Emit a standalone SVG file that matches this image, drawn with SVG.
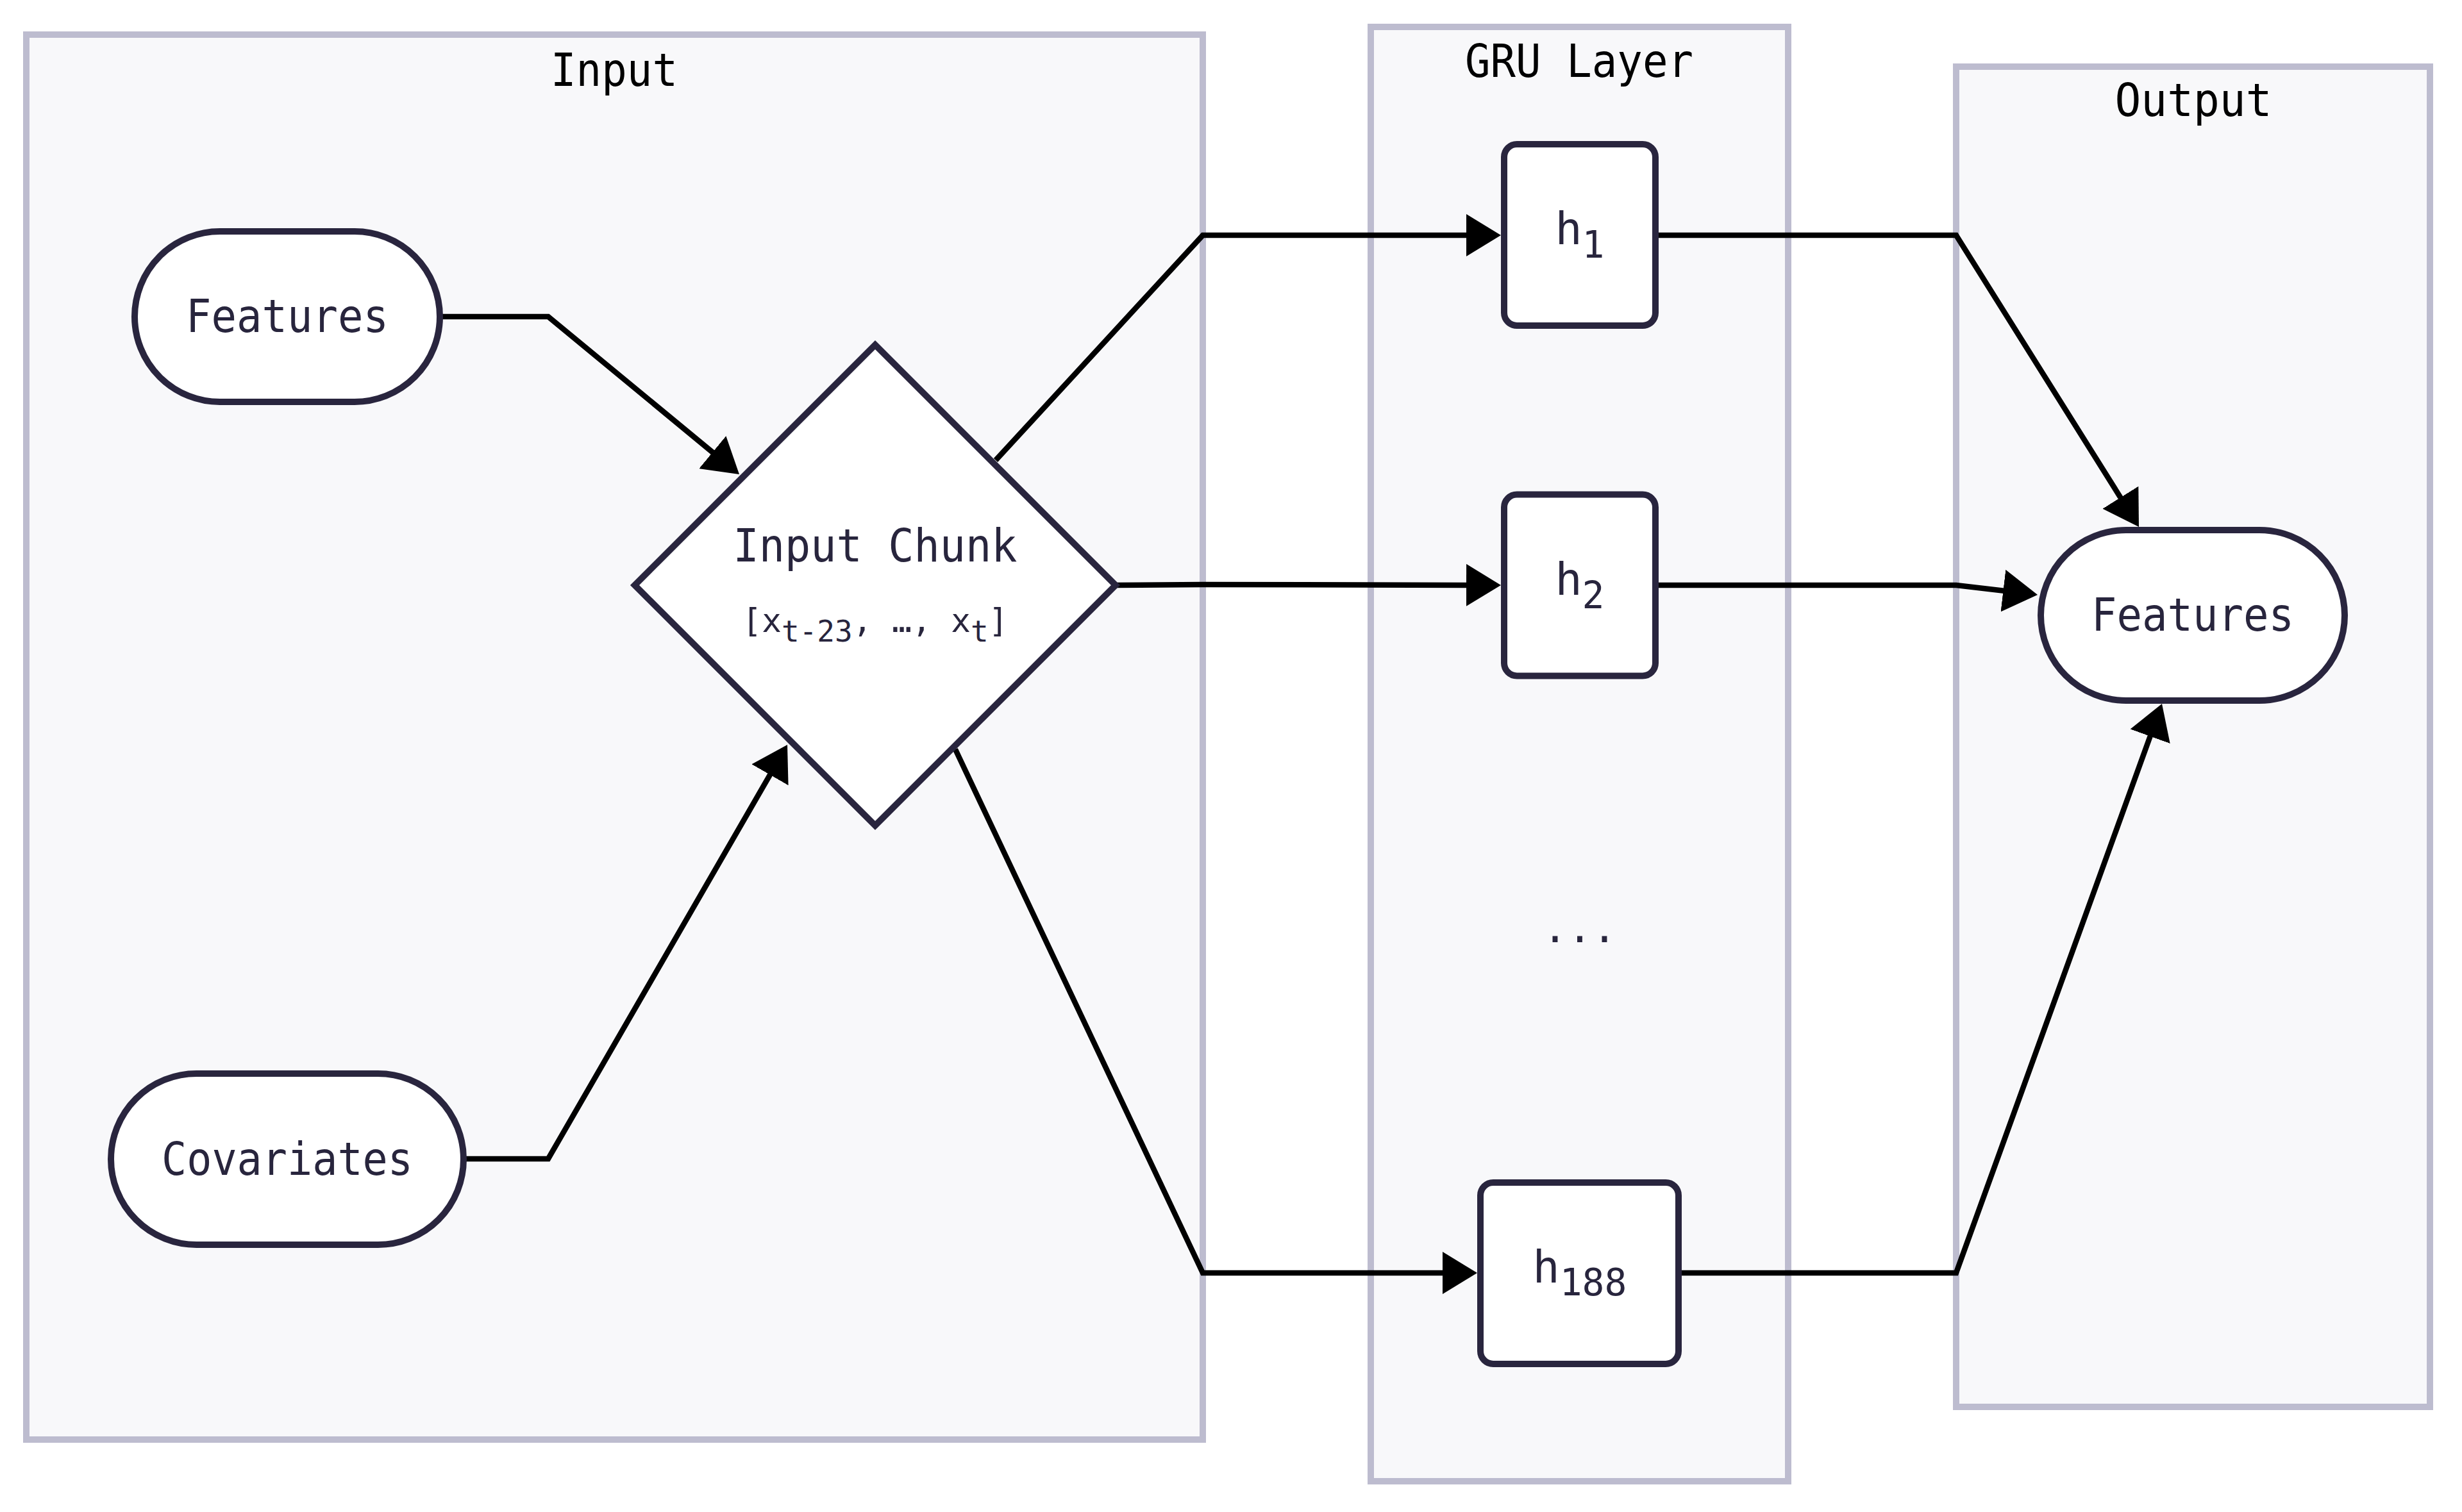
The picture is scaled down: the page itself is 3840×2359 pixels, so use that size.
<svg xmlns="http://www.w3.org/2000/svg" width="3840" height="2359" viewBox="0 0 3840 2359">
<style>
.cluster{fill:#f8f8fa;stroke:#bdbccf;stroke-width:10}
.title{font-family:"DejaVu Sans Mono","Liberation Mono",monospace;font-size:72px;fill:#000;text-anchor:middle}
.node{fill:#ffffff;stroke:#29253e;stroke-width:10}
.label{font-family:"DejaVu Sans Mono","Liberation Mono",monospace;font-size:72px;fill:#28253d;text-anchor:middle}
.hl{font-family:"DejaVu Sans Mono","Liberation Mono",monospace;font-size:70px;fill:#28253d;text-anchor:middle}
.sub{font-size:58px}
.edge{fill:none;stroke:#000;stroke-width:8.5;stroke-linejoin:miter}
</style>
<defs>
<marker id="arrow" viewBox="0 0 54 66" refX="44" refY="33" markerWidth="54" markerHeight="66" markerUnits="userSpaceOnUse" orient="auto">
<path d="M0,0 L54,33 L0,66 z" fill="#000"/>
</marker>
</defs>
<rect width="3840" height="2359" fill="#ffffff"/>
<g id="clusters">
<g id="cluster-input">
<rect class="cluster" x="41" y="54" width="1835" height="2192"/>
<text class="title" x="958" y="134" textLength="198" lengthAdjust="spacingAndGlyphs">Input</text>
</g>
<g id="cluster-gru">
<rect class="cluster" x="2138" y="42" width="651" height="2269"/>
<text class="title" x="2463" y="120" textLength="356" lengthAdjust="spacingAndGlyphs">GRU Layer</text>
</g>
<g id="cluster-output">
<rect class="cluster" x="3051" y="104" width="739" height="2091"/>
<text class="title" x="3421" y="181" textLength="245" lengthAdjust="spacingAndGlyphs">Output</text>
</g>
</g>
<g id="connectors">
<path class="edge" d="M686,494 L855,494 L1145.3,733.6" marker-end="url(#arrow)"/>
<path class="edge" d="M723,1808 L855,1808 L1223,1170.7" marker-end="url(#arrow)"/>
<path class="edge" d="M1553,718 L1876,367 L2331,367" marker-end="url(#arrow)"/>
<path class="edge" d="M1740,913 L1876,912 L2331,913" marker-end="url(#arrow)"/>
<path class="edge" d="M1490,1169 L1876,1986 L2294,1986" marker-end="url(#arrow)"/>
<path class="edge" d="M2587,367 L3051,367 L3330.7,813.5" marker-end="url(#arrow)"/>
<path class="edge" d="M2587,913 L3051,913 L3168.1,926.8" marker-end="url(#arrow)"/>
<path class="edge" d="M2623,1986 L3051,1986 L3368.6,1107.4" marker-end="url(#arrow)"/>
</g>
<g id="node-features-in">
<rect class="node" x="210" y="361" width="476" height="266" rx="133" ry="133"/>
<text class="label" x="448" y="518" textLength="316" lengthAdjust="spacingAndGlyphs">Features</text>
</g>
<g id="node-covariates">
<rect class="node" x="173" y="1675" width="550" height="267" rx="133.5" ry="133.5"/>
<text class="label" x="448" y="1833" textLength="392" lengthAdjust="spacingAndGlyphs">Covariates</text>
</g>
<g id="node-input-chunk">
<polygon class="node" points="1365,538 1740,913 1365,1288 990,913"/>
<text class="label" x="1365" y="876" textLength="443" lengthAdjust="spacingAndGlyphs">Input Chunk</text>
<text x="1365" y="986" font-family="DejaVu Sans Mono, Liberation Mono, monospace" font-size="51" fill="#28253d" text-anchor="middle">[x<tspan font-size="46" dy="15">t-23</tspan><tspan dy="-15">, …, x</tspan><tspan font-size="46" dy="15">t</tspan><tspan dy="-15">]</tspan></text>
</g>
<g id="node-h1">
<rect class="node" x="2346" y="225" width="236" height="283" rx="20" ry="20"/>
<text class="hl" x="2464" y="381">h<tspan class="sub" dy="21">1</tspan></text>
</g>
<g id="node-h2">
<rect class="node" x="2346" y="771.5" width="236" height="283" rx="20" ry="20"/>
<text class="hl" x="2464" y="927.5">h<tspan class="sub" dy="21">2</tspan></text>
</g>
<g id="node-ellipsis">
<text x="2464" y="1470" font-family="DejaVu Sans Mono, Liberation Mono, monospace" font-size="64" fill="#28253d" text-anchor="middle">...</text>
</g>
<g id="node-h188">
<rect class="node" x="2309" y="1845" width="309" height="283" rx="20" ry="20"/>
<text class="hl" x="2464" y="2001">h<tspan class="sub" dy="20">188</tspan></text>
</g>
<g id="node-features-out">
<rect class="node" x="3183" y="827" width="474" height="266" rx="133" ry="133"/>
<text class="label" x="3420" y="984" textLength="316" lengthAdjust="spacingAndGlyphs">Features</text>
</g>
</svg>
